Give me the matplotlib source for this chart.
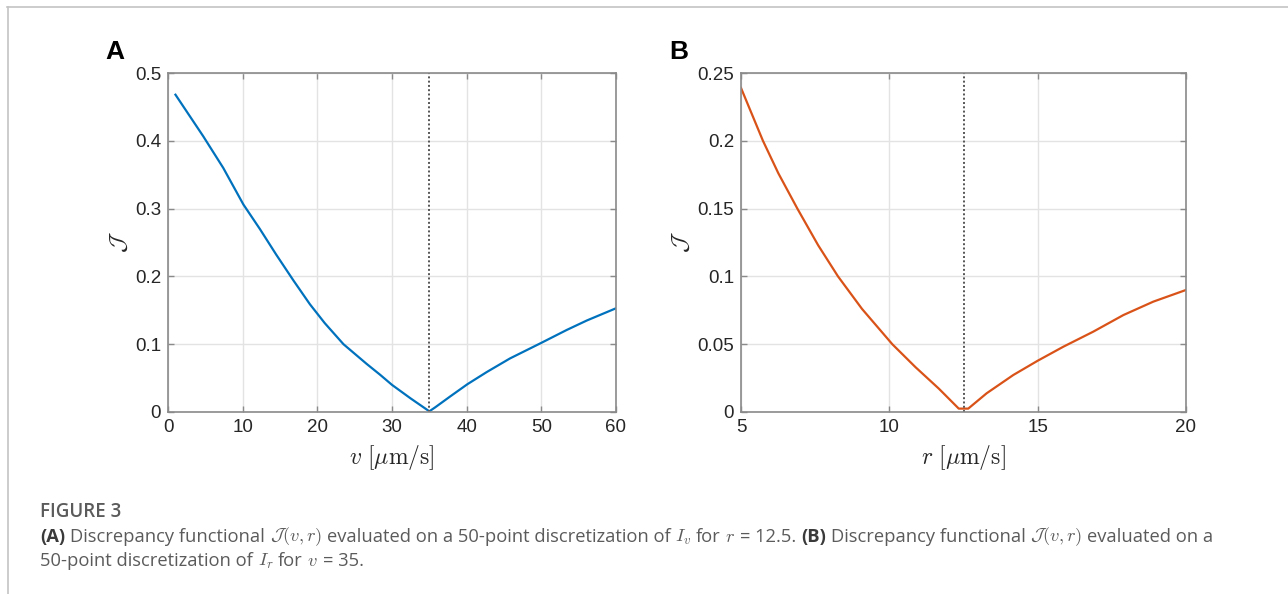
import matplotlib
matplotlib.use("Agg")
import matplotlib.pyplot as plt
from matplotlib.ticker import FormatStrFormatter
from matplotlib.lines import Line2D

# ---- data ----
v_A = [1.0, 4.7, 7.4, 10.1, 12.3, 14.5, 16.8, 19.0, 21.0, 23.5, 26.6, 28.4, 30.0,
       32.5, 35.0, 35.8, 37.8, 40.1, 42.7, 45.8, 50.0, 53.4, 56.1, 60.0]
J_A = [0.468, 0.407, 0.360, 0.306, 0.270, 0.232, 0.194, 0.159, 0.131, 0.100, 0.071,
       0.055, 0.040, 0.020, 0.001, 0.007, 0.023, 0.041, 0.059, 0.079, 0.102, 0.121,
       0.135, 0.153]
r_B = [5.0, 5.74, 6.26, 6.9, 7.6, 8.27, 9.08, 10.1, 10.88, 11.67, 12.34, 12.66,
       13.28, 14.18, 15.0, 15.87, 16.87, 17.89, 18.90, 20.0]
J_B = [0.239, 0.200, 0.176, 0.150, 0.123, 0.100, 0.076, 0.050, 0.0331, 0.0172,
       0.0025, 0.0025, 0.0138, 0.0273, 0.0378, 0.0482, 0.0592, 0.0715, 0.0814, 0.090]
v_true = 35
r_true = 12.5
xticks_A = [0, 10, 20, 30, 40, 50, 60]
yticks_A = [0, 0.1, 0.2, 0.3, 0.4, 0.5]
xticks_B = [5, 10, 15, 20]
yticks_B = [0, 0.05, 0.1, 0.15, 0.2, 0.25]

plt.rcParams['font.family'] = ['Liberation Sans', 'DejaVu Sans']
plt.rcParams['mathtext.fontset'] = 'cm'

W, H = 1288, 594
fig = plt.figure(figsize=(W / 100, H / 100), dpi=100)

spine_c = '#8a8a8a'
text_c = '#262626'


def style(ax, xt, yt, xlim, ylim):
    ax.set_xlim(*xlim)
    ax.set_ylim(*ylim)
    ax.set_xticks(xt)
    ax.set_yticks(yt)
    ax.yaxis.set_major_formatter(FormatStrFormatter('%g'))
    ax.grid(True, color='#e3e3e3', linewidth=1.0)
    ax.set_axisbelow(True)
    for s in ax.spines.values():
        s.set_color(spine_c)
        s.set_linewidth(1.2)
    ax.tick_params(direction='in', length=4, width=1.0, color=spine_c,
                   top=True, right=True, labelsize=13.5, labelcolor=text_c, pad=5)


def px_axes(l, t, r, b):
    return fig.add_axes([l / W, 1 - b / H, (r - l) / W, (b - t) / H])


axA = px_axes(168, 73, 616, 412)
axA.plot(v_A, J_A, color='#0072BD', linewidth=1.6)
axA.axvline(v_true, color='#555555', linestyle=(0, (1, 1.2)), linewidth=1.4)
style(axA, xticks_A, yticks_A, (0, 60), (0, 0.5))
axA.set_xlabel(r'$v\ [\mu\mathrm{m/s}]$', fontsize=17, color=text_c, labelpad=5)
axA.set_ylabel(r'$\mathcal{J}$', fontsize=17, color=text_c, labelpad=3)

axB = px_axes(741, 73, 1186, 412)
axB.plot(r_B, J_B, color='#D95319', linewidth=1.6)
axB.axvline(r_true, color='#555555', linestyle=(0, (1, 1.2)), linewidth=1.4)
style(axB, xticks_B, yticks_B, (5, 20), (0, 0.25))
axB.set_xlabel(r'$r\ [\mu\mathrm{m/s}]$', fontsize=17, color=text_c, labelpad=5)
axB.set_ylabel(r'$\mathcal{J}$', fontsize=17, color=text_c, labelpad=3)

fig.text(105 / W, 1 - 59 / H, 'A', fontsize=19, fontweight='bold', color='black')
fig.text(669 / W, 1 - 59 / H, 'B', fontsize=19, fontweight='bold', color='black')

# page frame lines
fig.add_artist(Line2D([7 / W, 1.0], [1 - 7 / H, 1 - 7 / H], color='#c4c4c4', linewidth=1.2))
fig.add_artist(Line2D([8 / W, 8 / W], [1 - 7 / H, 0], color='#c4c4c4', linewidth=1.2))

# caption
cap_c = '#5b5b5b'
cap_font = ['Open Sans', 'DejaVu Sans']
cap_size = 13.2
fig.text(40 / W, 1 - 512 / H, 'FIGURE 3', fontsize=13.5, fontweight='semibold',
         color=cap_c, family=cap_font, va='center')

renderer = fig.canvas.get_renderer()
probe1 = fig.text(0, 0, 'x x', fontsize=cap_size, family=cap_font)
probe2 = fig.text(0, 0, 'xx', fontsize=cap_size, family=cap_font)
space_px = probe1.get_window_extent(renderer).width - probe2.get_window_extent(renderer).width
probe1.remove()
probe2.remove()


def rich_line(x_px, y_px, pieces):
    x = x_px
    for s, bold, gap in pieces:
        t = fig.text(x / W, 1 - y_px / H, s, fontsize=cap_size, family=cap_font,
                     fontweight='bold' if bold else 'normal',
                     color='#3a3a3a' if bold else cap_c, va='center')
        bb = t.get_window_extent(renderer)
        x = bb.x1 + (space_px if gap else 0)


rich_line(40, 537, [
    ('(A)', True, True),
    ('Discrepancy functional', False, True),
    (r'$\mathcal{J}(v,r)$', False, True),
    ('evaluated on a 50-point discretization of', False, True),
    (r'$I_v$', False, True),
    ('for', False, True),
    (r'$r$', False, True),
    ('= 12.5.', False, True),
    ('(B)', True, True),
    ('Discrepancy functional', False, True),
    (r'$\mathcal{J}(v,r)$', False, True),
    ('evaluated on a', False, False),
])
rich_line(40, 561, [
    ('50-point discretization of', False, True),
    (r'$I_r$', False, True),
    ('for', False, True),
    (r'$v$', False, True),
    ('= 35.', False, False),
])

fig.savefig('out.png', dpi=100)
